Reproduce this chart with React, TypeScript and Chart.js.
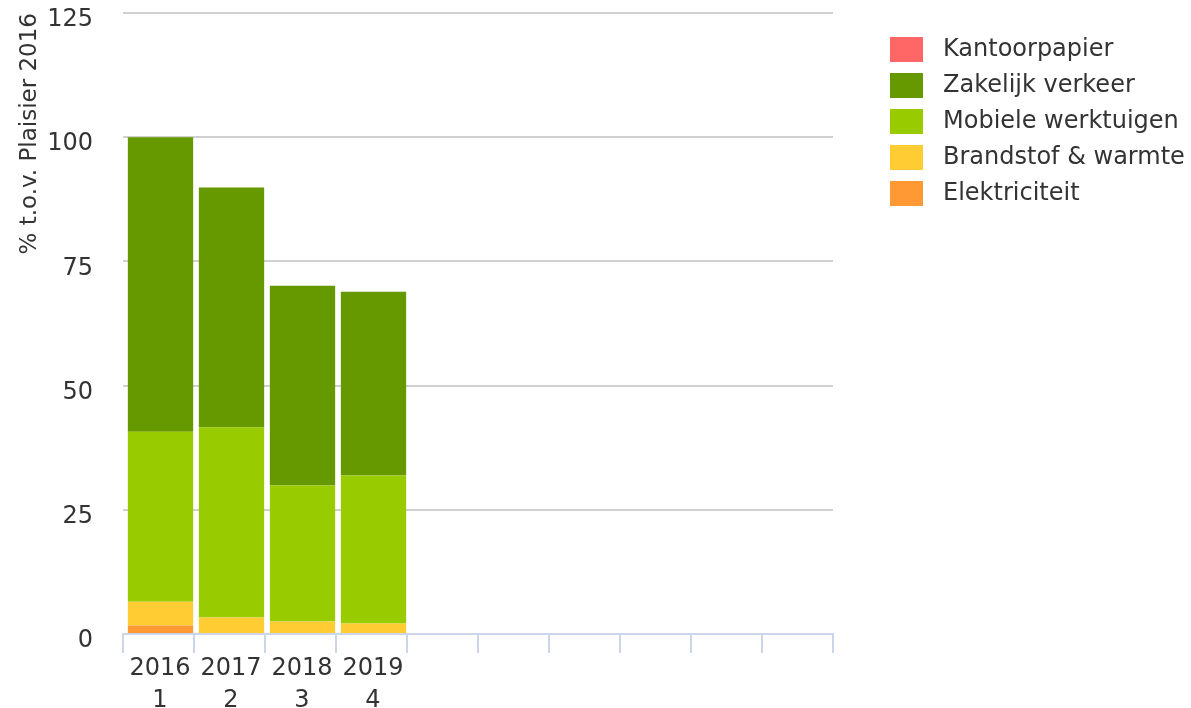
import React, { useEffect, useRef } from "react";
import { Chart, registerables } from "chart.js";

Chart.register(...registerables);

const categories: (string | string[])[] = [
  ["2016", "1"],
  ["2017", "2"],
  ["2018", "3"],
  ["2019", "4"],
  "",
  "",
  "",
  "",
  "",
  "",
];

const elektriciteit = [1.7, 0, 0, 0];
const brandstofWarmte = [4.8, 3.3, 2.5, 2.1];
const mobieleWerktuigen = [34.2, 38.3, 27.4, 29.8];
const zakelijkVerkeer = [59.3, 48.3, 40.2, 37.0];
const kantoorpapier = [0, 0, 0, 0];

const yTicks = [0, 25, 50, 75, 100, 125];
const yTitle = "% t.o.v. Plaisier 2016";

const FONT = "'DejaVu Sans', sans-serif";

const legendPlugin = {
  id: "customLegend",
  beforeDatasetsDraw(chart: any) {
    chart.ctx.save();
    chart.ctx.translate(2, 0);
  },
  afterDatasetsDraw(chart: any) {
    chart.ctx.restore();
  },
  afterDraw(chart: any) {
    const ctx = chart.ctx;
    const ds = [...chart.data.datasets].reverse();
    ctx.save();
    ctx.font = `24px ${FONT}`;
    ctx.textBaseline = "middle";
    ctx.textAlign = "left";
    ds.forEach((d: any, i: number) => {
      const top = 37 + i * 36;
      ctx.fillStyle = d.backgroundColor;
      ctx.fillRect(890, top, 33, 25);
      ctx.fillStyle = "#333333";
      ctx.fillText(d.label, 943, top + 13);
    });
    ctx.restore();
  },
};

export default function App() {
  const ref = useRef<HTMLCanvasElement>(null);

  useEffect(() => {
    if (!ref.current) return;
    Chart.defaults.font.family = FONT;
    const chart = new Chart(ref.current, {
      type: "bar",
      data: {
        labels: categories,
        datasets: [
          { label: "Elektriciteit", data: elektriciteit, backgroundColor: "#ff9933" },
          { label: "Brandstof & warmte", data: brandstofWarmte, backgroundColor: "#ffcc33" },
          { label: "Mobiele werktuigen", data: mobieleWerktuigen, backgroundColor: "#99cc00" },
          { label: "Zakelijk verkeer", data: zakelijkVerkeer, backgroundColor: "#669900" },
          { label: "Kantoorpapier", data: kantoorpapier, backgroundColor: "#ff6666" },
        ],
      },
      options: {
        animation: false,
        responsive: true,
        maintainAspectRatio: false,
        layout: { padding: { top: 13, right: 358, left: 0, bottom: 0 } },
        datasets: {
          bar: { categoryPercentage: 1, barPercentage: 0.92, borderWidth: 0 },
        },
        plugins: {
          legend: { display: false },
          tooltip: { enabled: false },
        },
        scales: {
          x: {
            stacked: true,
            afterFit: (s: any) => {
              s.height = 74;
              s.paddingLeft = 0;
              s.paddingRight = 0;
            },
            border: { display: true, color: "#ccd6eb", width: 2 },
            grid: {
              offset: true,
              drawOnChartArea: false,
              drawTicks: true,
              tickLength: 19,
              color: "#ccd6eb",
              lineWidth: 2,
            },
            ticks: {
              color: "#333333",
              font: { size: 24, lineHeight: 1.33 },
              padding: 0,
              maxRotation: 0,
              autoSkip: false,
              labelOffset: 1.5,
            },
          },
          y: {
            stacked: true,
            min: 0,
            max: 125,
            afterFit: (s: any) => {
              s.width = 123;
              s.paddingTop = 0;
              s.paddingBottom = 0;
            },
            afterBuildTicks: (s: any) => {
              s.ticks = yTicks.map((v) => ({ value: v }));
            },
            border: { display: false },
            grid: { color: "#d0d0d0", lineWidth: 2, drawTicks: false },
            ticks: {
              color: "#333333",
              font: { size: 24, lineHeight: 1 },
              padding: 30,
              labelOffset: 7,
            },
            title: {
              display: true,
              text: yTitle,
              align: "end",
              color: "#333333",
              font: { size: 23, lineHeight: 1.2 },
              padding: { top: 16, bottom: 0 },
            },
          },
        },
      },
      plugins: [legendPlugin],
    });
    return () => chart.destroy();
  }, []);

  return (
    <div style={{ position: "absolute", left: 0, top: 0, width: 1191, height: 708 }}>
      <canvas ref={ref} />
    </div>
  );
}
